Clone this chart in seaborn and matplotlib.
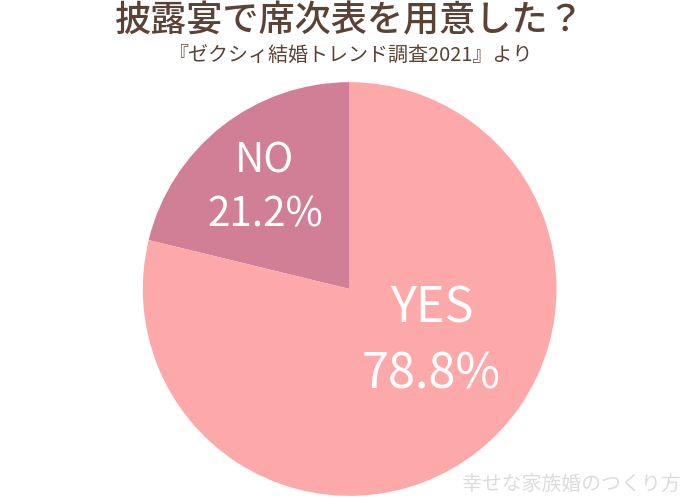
import matplotlib
matplotlib.use("Agg")
import matplotlib.pyplot as plt
import seaborn as sns

# ---------- data ----------
labels = ["NO", "YES"]
shares = [21.2, 78.8]
colors = ["#D17F97", "#FEA9A9"]

title = "披露宴で席次表を用意した？"
subtitle = "『ゼクシィ結婚トレンド調査2021』より"
credit = "幸せな家族婚のつくり方"

sns.set_style("white")
plt.rcParams["font.family"] = ["Noto Sans CJK JP", "DejaVu Sans"]

fig = plt.figure(figsize=(7, 5), dpi=100)
ax = fig.add_axes([0.204, 0.008, 0.591, 0.828])

wedges, _ = ax.pie(shares, colors=colors, startangle=90, counterclock=True,
                   radius=1.0, wedgeprops=dict(linewidth=0))
ax.set_xlim(-1, 1)
ax.set_ylim(-1, 1)
ax.set_aspect("equal")
ax.axis("off")

# label placement (pie radius units): x, y of name line, y of percent line, size
label_layout = [(-0.41, 0.619, 0.359, 29), (0.395, -0.097, -0.416, 35)]
for lab, val, (x, y1, y2, fs) in zip(labels, shares, label_layout):
    ax.text(x, y1, lab, ha="center", va="center", color="white", fontsize=fs)
    ax.text(x, y2, f"{val:.1f}%", ha="center", va="center",
            color="white", fontsize=fs)

fig.text(0.5, 0.958, title, ha="center", va="center", color="#5B4236",
         fontsize=26, fontweight="medium")
fig.text(0.5, 0.888, subtitle, ha="center", va="center", color="#5B4236",
         fontsize=14.4)
fig.text(0.816, 0.032, credit, ha="center", va="center", color="#DCDCDC",
         fontsize=14.3)

fig.savefig("out.png", dpi=100)
